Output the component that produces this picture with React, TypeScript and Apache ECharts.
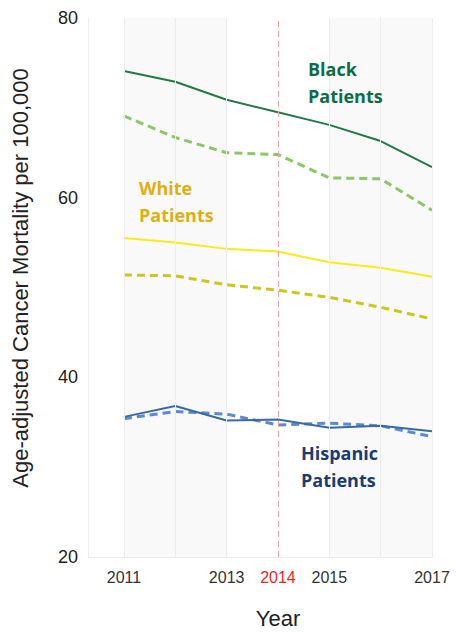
import React, { useEffect, useRef } from "react";
import * as echarts from "echarts";

const years = [2011, 2012, 2013, 2014, 2015, 2016, 2017];
const labeledYears = [2011, 2013, 2014, 2015, 2017];
const yTicks = [20, 40, 60, 80];

const blackSolid = [74.1, 72.9, 70.9, 69.5, 68.1, 66.3, 63.4];
const blackDashed = [69.1, 66.7, 65.0, 64.8, 62.2, 62.1, 58.6];
const whiteSolid = [55.5, 55.0, 54.3, 54.0, 52.8, 52.2, 51.2];
const whiteDashed = [51.4, 51.3, 50.3, 49.7, 48.9, 47.8, 46.5];
const hispSolid = [35.6, 36.8, 35.2, 35.3, 34.4, 34.6, 34.0];
const hispDashed = [35.4, 36.2, 35.9, 34.7, 34.9, 34.6, 33.4];

const shadedRanges = [
  [2011, 2013],
  [2015, 2017],
];
const policyYear = 2014;

const pairs = (vals: number[]) => years.map((y, i) => [y, vals[i]]);

export default function App() {
  const ref = useRef<HTMLDivElement>(null);
  useEffect(() => {
    if (!ref.current) return;
    const chart = echarts.init(ref.current, undefined, { renderer: "svg" });
    const font = "'Liberation Sans', Arial, sans-serif";
    const labelFont = "'Open Sans', Lato, sans-serif";
    const line = (name: string, vals: number[], color: string, dashed: boolean) => ({
      type: "line",
      name,
      data: pairs(vals),
      symbol: "none",
      z: dashed ? 3 : 4,
      lineStyle: {
        color,
        width: dashed ? 3 : 2,
        type: dashed ? [8, 5] : "solid",
      },
    });
    const groupLabel = (text: string, x: number, y: number, color: string) => ({
      type: "text",
      x,
      y,
      z: 100,
      style: {
        text,
        fontSize: 18,
        fontWeight: "bold",
        lineHeight: 27,
        fontFamily: labelFont,
        fill: color,
        align: "left",
        verticalAlign: "top",
      },
    });
    chart.setOption({
      animation: false,
      backgroundColor: "#ffffff",
      grid: { left: 88, right: 25, top: 18, bottom: 76 },
      xAxis: {
        type: "value",
        min: 2010.3,
        max: 2017,
        axisLine: { show: true, lineStyle: { color: "#ececec", width: 1 } },
        axisTick: { show: false },
        splitLine: { show: false },
        axisLabel: {
          customValues: labeledYears,
          margin: 12,
          fontSize: 16,
          fontFamily: font,
          color: "#333",
          formatter: (v: number) => (v === policyYear ? "{r|" + v + "}" : String(v)),
          rich: { r: { color: "#e8262c", fontSize: 16, fontFamily: font } },
        },
      },
      yAxis: {
        type: "value",
        min: 20,
        max: 80,
        interval: 20,
        axisLine: { show: true, lineStyle: { color: "#ececec", width: 1 } },
        axisTick: { show: false },
        splitLine: { show: false },
        axisLabel: {
          margin: 10,
          fontSize: 18,
          fontFamily: font,
          color: "#222",
          customValues: yTicks,
        },
      },
      series: [
        {
          type: "line",
          name: "bg",
          data: [],
          symbol: "none",
          silent: true,
          z: 1,
          markArea: {
            silent: true,
            itemStyle: { color: "#f9f9f9" },
            data: shadedRanges.map((r) => [{ xAxis: r[0] }, { xAxis: r[1] }]),
          },
          markLine: {
            silent: true,
            symbol: "none",
            label: { show: false },
            lineStyle: { color: "#ececec", width: 1, type: "solid" },
            data: years.filter((y) => y !== policyYear).map((y) => ({ xAxis: y })),
          },
        },
        {
          type: "line",
          name: "policy",
          data: [],
          symbol: "none",
          silent: true,
          z: 2,
          markLine: {
            silent: true,
            symbol: "none",
            label: { show: false },
            lineStyle: { color: "#f4a0a0", width: 1, type: [6, 4] },
            data: [{ xAxis: policyYear }],
          },
        },
        line("Black dashed", blackDashed, "#8cc66a", true),
        line("Black", blackSolid, "#237a45", false),
        line("White dashed", whiteDashed, "#c9c81e", true),
        line("White", whiteSolid, "#fbea1a", false),
        line("Hispanic dashed", hispDashed, "#5e88d0", true),
        line("Hispanic", hispSolid, "#3a6aa0", false),
      ],
      graphic: [
        {
          type: "text",
          x: 20,
          y: 278,
          z: 100,
          rotation: Math.PI / 2,
          style: {
            text: "Age-adjusted Cancer Mortality per 100,000",
            fontSize: 22,
            fontFamily: font,
            fill: "#222",
            align: "center",
            verticalAlign: "middle",
          },
        },
        {
          type: "text",
          x: 278,
          y: 618,
          z: 100,
          style: {
            text: "Year",
            fontSize: 22,
            fontFamily: font,
            fill: "#222",
            align: "center",
            verticalAlign: "middle",
          },
        },
        groupLabel("Black\nPatients", 308, 55, "#0e6b47"),
        groupLabel("White\nPatients", 139, 174, "#ddb013"),
        groupLabel("Hispanic\nPatients", 301, 439, "#1c3c70"),
      ],
    });
    return () => chart.dispose();
  }, []);
  return (
    <div
      ref={ref}
      style={{ position: "fixed", left: 0, top: 0, width: 457, height: 633 }}
    />
  );
}
